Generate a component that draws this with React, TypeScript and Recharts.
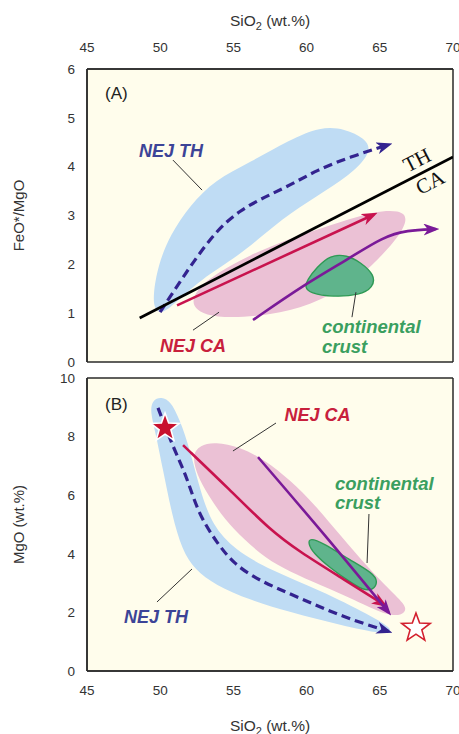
import React from 'react';
import { ScatterChart, Scatter, XAxis, YAxis, CartesianGrid } from 'recharts';

type Pt = { x: number; y: number };
type Lbl = { x: number; y: number; text: string; kind: string };
const pts = (a: number[][]): Pt[] => a.map(([x, y]) => ({ x, y }));

// ---------- axes ----------
const sio2Ticks = [45, 50, 55, 60, 65, 70];
const ratioTicks = [0, 1, 2, 3, 4, 5, 6];
const mgoTicks = [0, 2, 4, 6, 8, 10];

// ---------- Panel A : FeO*/MgO vs SiO2 ----------
const thFieldA = pts([
  [49.51, 1.37], [49.85, 1.98], [50.67, 2.6], [52.04, 3.21], [53.74, 3.73], [56.13, 4.09],
  [58.87, 4.55], [60.92, 4.82], [62.62, 4.78], [63.99, 4.58], [64.45, 4.34], [63.4, 3.93],
  [61.26, 3.5], [58.87, 3.05], [56.82, 2.55], [55.45, 2.2], [52.72, 1.68], [51.01, 1.2],
  [50.12, 0.98], [49.6, 1.08],
]);
const caFieldA = pts([
  [52.17, 1.27], [52.72, 1.57], [54.43, 1.92], [56.82, 2.29], [59.55, 2.6], [62.28, 2.86],
  [64.67, 3.09], [66.38, 3.11], [66.93, 2.95], [66.38, 2.6], [65.01, 2.13], [62.96, 1.57],
  [60.23, 1.16], [57.5, 0.96], [54.77, 0.9], [53.06, 0.96], [52.38, 1.1],
]);
const crustFieldA = pts([
  [60.03, 1.68], [60.71, 1.94], [61.6, 2.19], [62.76, 2.19], [63.65, 2.05], [64.67, 1.78],
  [64.54, 1.53], [63.65, 1.37], [61.8, 1.33], [60.23, 1.41], [59.89, 1.53],
]);
const thTrendA = pts([
  [49.99, 1.02], [50.67, 1.33], [51.56, 1.74], [52.51, 2.15], [53.88, 2.7], [55.45, 3.11],
  [57.16, 3.38], [58.87, 3.62], [60.71, 3.93], [62.96, 4.2], [65.6, 4.45],
]);
const caTrendA = pts([[51.15, 1.16], [64.6, 3.02]]);
const crustTrendA = pts([
  [56.34, 0.86], [59.75, 1.57], [62.96, 2.13], [65.22, 2.56], [66.86, 2.7], [68.8, 2.72],
]);
const thCaDivide = pts([[48.6, 0.9], [70, 4.2]]);
const leaderThA = pts([[50.87, 4.135], [52.86, 3.52]]);
const leaderCaA = pts([[52.24, 0.652], [54.02, 1.02]]);
const leaderCrustA = pts([[63.1, 0.918], [63.37, 1.43]]);
const labelsA: Lbl[] = [
  { x: 46.23, y: 5.385, text: '(A)', kind: 'panel' },
  { x: 50.74, y: 4.197, text: 'NEJ TH', kind: 'th' },
  { x: 52.24, y: 0.201, text: 'NEJ CA', kind: 'ca' },
  { x: 61.05, y: 0.59, text: 'continental', kind: 'crust' },
  { x: 61.05, y: 0.18, text: 'crust', kind: 'crust' },
  { x: 67.54, y: 4.135, text: 'TH', kind: 'divide' },
  { x: 68.43, y: 3.68, text: 'CA', kind: 'divide' },
];

// ---------- Panel B : MgO vs SiO2 ----------
const thFieldB = pts([
  [49.99, 9.35], [50.67, 9.25], [51.35, 8.57], [52.04, 7.54], [52.72, 6.18], [53.54, 4.98],
  [55.11, 4.13], [57.5, 3.45], [60.92, 2.76], [64.33, 1.91], [66.04, 1.4], [65.36, 1.23],
  [62.28, 1.57], [58.87, 2.01], [56.13, 2.42], [53.74, 2.94], [52.38, 3.45], [51.49, 4.13],
  [50.81, 5.32], [50.19, 6.86], [49.64, 8.23], [49.3, 8.91], [49.51, 9.25],
]);
const caFieldB = pts([
  [52.17, 7.37], [52.72, 7.71], [53.74, 7.82], [55.45, 7.65], [57.16, 7.2], [58.87, 6.52],
  [60.57, 5.67], [62.28, 4.64], [64.33, 3.45], [66.04, 2.59], [66.93, 2.15], [66.52, 1.88],
  [65.36, 1.91], [63.31, 2.42], [60.92, 2.94], [58.87, 3.38], [57.16, 3.86], [55.79, 4.47],
  [54.43, 5.15], [53.26, 6.01], [52.51, 6.69],
]);
const crustFieldB = pts([
  [60.23, 4.54], [61.12, 4.37], [62.96, 3.79], [64.54, 3.34], [64.88, 3.04], [64.54, 2.76],
  [63.85, 2.76], [62.96, 3.04], [61.6, 3.52], [60.44, 4.03], [60.1, 4.37],
]);
const thTrendB = pts([
  [49.85, 8.98], [50.87, 7.65], [51.83, 6.62], [52.58, 5.39], [53.88, 4.37], [54.97, 3.69],
  [56.61, 3.11], [59.55, 2.49], [62.49, 1.84], [65.6, 1.35],
]);
const caTrendB = pts([
  [51.56, 7.71], [54.77, 6.18], [57.5, 4.81], [59.55, 4.06], [62.28, 3.21], [65.3, 2.26],
]);
const crustTrendB = pts([[56.68, 7.3], [61.26, 4.62], [65.6, 2.0]]);
const leaderCaB = pts([[57.91, 8.464], [54.97, 7.509]]);
const leaderCrustB = pts([[64.26, 5.358], [64.13, 3.686]]);
const leaderThB = pts([[49.78, 2.355], [52.17, 3.481]]);
const starsB: Lbl[] = [
  { x: 50.33, y: 8.294, text: '', kind: 'filled' },
  { x: 67.47, y: 1.468, text: '', kind: 'open' },
];
const labelsB: Lbl[] = [
  { x: 46.23, y: 8.908, text: '(B)', kind: 'panel' },
  { x: 60.74, y: 8.532, text: 'NEJ CA', kind: 'ca' },
  { x: 61.94, y: 6.177, text: 'continental', kind: 'crust' },
  { x: 61.94, y: 5.529, text: 'crust', kind: 'crust' },
  { x: 49.71, y: 1.638, text: 'NEJ TH', kind: 'th' },
];

// ---------- styling ----------
const SANS = '"Liberation Sans", Arial, Helvetica, sans-serif';
const SERIF = '"Liberation Serif", "Times New Roman", serif';
const BG = '#fffdec';
const AXIS = '#2a2a2a';
const BLUE = '#bfdcf4';
const PINK = '#ebc1d5';
const GREEN = '#5fb48c';
const GREEN_LINE = '#2f9a55';
const NAVY = '#33238f';
const RED = '#c8134e';
const PURPLE = '#7a1a98';
const tickStyle = { fontSize: 13.5, fill: '#333', fontFamily: SANS };

const labelStyles: Record<string, any> = {
  panel: { fontSize: 17, fill: '#222', fontFamily: SANS, textAnchor: 'start' },
  th: { fontSize: 18, fill: '#3c4497', fontFamily: SANS, fontWeight: 'bold', fontStyle: 'italic', textAnchor: 'middle' },
  ca: { fontSize: 18, fill: '#c8203c', fontFamily: SANS, fontWeight: 'bold', fontStyle: 'italic', textAnchor: 'middle' },
  crust: { fontSize: 18.5, fill: '#3a9f5f', fontFamily: SANS, fontWeight: 'bold', fontStyle: 'italic', textAnchor: 'start' },
  divide: { fontSize: 21, fill: '#111', fontFamily: SERIF, textAnchor: 'middle', dominantBaseline: 'central', rotate: -27 },
};

const Nothing = () => <g />;

const LabelText = (p: any) => {
  const { rotate, ...s } = labelStyles[p.payload.kind];
  const tr = rotate ? `rotate(${rotate} ${p.cx} ${p.cy})` : undefined;
  return (
    <text x={p.cx} y={p.cy} transform={tr} {...s}>
      {p.payload.text}
    </text>
  );
};

const StarMark = (p: any) => {
  const rOut = 15;
  const rIn = 6.2;
  let d = '';
  for (let i = 0; i < 10; i++) {
    const a = ((-90 + i * 36) * Math.PI) / 180;
    const r = i % 2 === 0 ? rOut : rIn;
    d += `${i === 0 ? 'M' : 'L'}${p.cx + r * Math.cos(a)},${p.cy + r * Math.sin(a)}`;
  }
  d += 'Z';
  const filled = p.payload.kind === 'filled';
  return (
    <path d={d} fill={filled ? '#c8102e' : '#ffffff'} stroke={filled ? '#ffffff' : '#d3202e'} strokeWidth={1.6} strokeLinejoin="miter" />
  );
};

function field(key: string, data: Pt[], fill: string, stroke = 'none', strokeWidth = 0) {
  return (
    <Scatter key={key} data={data} xAxisId="x" yAxisId="y" isAnimationActive={false} shape={Nothing}
      line={{ fill, stroke, strokeWidth }} lineType="joint" lineJointType="basisClosed" />
  );
}

function path(key: string, data: Pt[], stroke: string, width: number, curve: any, marker?: string, dash?: string) {
  return (
    <Scatter key={key} data={data} xAxisId="x" yAxisId="y" isAnimationActive={false} shape={Nothing}
      line={{ fill: 'none', stroke, strokeWidth: width, strokeDasharray: dash, markerEnd: marker ? `url(#${marker})` : undefined, strokeLinecap: 'butt' }}
      lineType="joint" lineJointType={curve} />
  );
}

function texts(key: string, data: Lbl[]) {
  return <Scatter key={key} data={data} xAxisId="x" yAxisId="y" isAnimationActive={false} shape={LabelText} />;
}

const SiO2Title = (props: any) => {
  const vb = props.viewBox || { x: 0, y: 0, width: 0, height: 0 };
  const cx = vb.x + vb.width / 2;
  const y = props.top ? vb.y - 13 : vb.y + vb.height + 20;
  return (
    <text x={cx} y={y} textAnchor="middle" fontSize={15.5} fill="#333" fontFamily={SANS}>
      SiO<tspan fontSize={11} dy={4}>2</tspan>
      <tspan dy={-4}> (wt.%)</tspan>
    </text>
  );
};

const YTitle = (props: any) => {
  const vb = props.viewBox || { x: 0, y: 0, width: 0, height: 0 };
  const cy = vb.y + vb.height / 2;
  const x = vb.x + 24;
  return (
    <text x={x} y={cy} transform={`rotate(-90 ${x} ${cy})`} textAnchor="middle" fontSize={15} fill="#333" fontFamily={SANS}>
      {props.text}
    </text>
  );
};

function frameAxes(yDomain: number[], yTicks: number[], top: boolean, yTitle: string) {
  return [
    <CartesianGrid key="bg" xAxisId="x" yAxisId="y" horizontal={false} vertical={false} fill={BG} stroke="none" />,
    <XAxis key="x" xAxisId="x" type="number" dataKey="x" domain={[45, 70]} ticks={sio2Ticks} interval={0}
      allowDataOverflow orientation={top ? 'top' : 'bottom'} height={top ? 30 : 40}
      tickLine={false} tickSize={0} tickMargin={top ? 17 : 14} tick={tickStyle}
      axisLine={{ stroke: AXIS, strokeWidth: 1.5 }} label={<SiO2Title top={top} />} />,
    <XAxis key="xm1" xAxisId="xm1" type="number" domain={[45, 70]} ticks={sio2Ticks} interval={0}
      allowDataOverflow orientation="top" mirror tick={false} tickSize={5}
      tickLine={{ stroke: AXIS, strokeWidth: 1.2 }} axisLine={{ stroke: AXIS, strokeWidth: 1.5 }} />,
    <XAxis key="xm2" xAxisId="xm2" type="number" domain={[45, 70]} ticks={sio2Ticks} interval={0}
      allowDataOverflow orientation="bottom" mirror tick={false} tickSize={5}
      tickLine={{ stroke: AXIS, strokeWidth: 1.2 }} axisLine={{ stroke: AXIS, strokeWidth: 1.5 }} />,
    <YAxis key="y" yAxisId="y" type="number" dataKey="y" domain={yDomain} ticks={yTicks} interval={0}
      allowDataOverflow width={87} tickLine={false} tickSize={0} tickMargin={12} tick={tickStyle}
      axisLine={{ stroke: AXIS, strokeWidth: 1.5 }} label={<YTitle text={yTitle} />} />,
    <YAxis key="ym1" yAxisId="ym1" type="number" domain={yDomain} ticks={yTicks} interval={0}
      allowDataOverflow orientation="left" mirror tick={false} tickSize={5}
      tickLine={{ stroke: AXIS, strokeWidth: 1.2 }} axisLine={{ stroke: AXIS, strokeWidth: 1.5 }} />,
    <YAxis key="ym2" yAxisId="ym2" type="number" domain={yDomain} ticks={yTicks} interval={0}
      allowDataOverflow orientation="right" mirror tick={false} tickSize={5}
      tickLine={{ stroke: AXIS, strokeWidth: 1.2 }} axisLine={{ stroke: AXIS, strokeWidth: 1.5 }} />,
  ];
}

const Markers = () => (
  <svg width={0} height={0} style={{ position: 'absolute' }}>
    <defs>
      {[['ah-navy', NAVY], ['ah-red', RED], ['ah-purple', PURPLE]].map(([id, c]) => (
        <marker key={id} id={id} viewBox="0 0 16 12" refX={12} refY={6} markerWidth={16} markerHeight={12}
          markerUnits="userSpaceOnUse" orient="auto">
          <path d="M0,0 L16,6 L0,12 L4.5,6 Z" fill={c} />
        </marker>
      ))}
    </defs>
  </svg>
);

export default function App() {
  return (
    <div style={{ position: 'absolute', left: 0, top: 0, width: 459, height: 734, background: '#fff' }}>
      <Markers />
      <div style={{ position: 'absolute', left: 0, top: 0 }}>
        <ScatterChart width={459} height={372} margin={{ top: 39, right: 6, bottom: 10, left: 0 }}>
          {frameAxes([0, 6], ratioTicks, true, 'FeO*/MgO')}
          {field('thA', thFieldA, BLUE)}
          {field('caA', caFieldA, PINK)}
          {field('crA', crustFieldA, GREEN, GREEN_LINE, 1.4)}
          {path('l1', leaderThA, '#333', 1, 'linear')}
          {path('l2', leaderCaA, '#333', 1, 'linear')}
          {path('l3', leaderCrustA, '#333', 1, 'linear')}
          {path('thTA', thTrendA, NAVY, 3.2, 'basis', 'ah-navy', '9 5')}
          {path('div', thCaDivide, '#000', 2.8, 'linear')}
          {path('caTA', caTrendA, RED, 2.6, 'linear', 'ah-red')}
          {path('crTA', crustTrendA, PURPLE, 2.6, 'basis', 'ah-purple')}
          {texts('labA', labelsA)}
        </ScatterChart>
      </div>
      <div style={{ position: 'absolute', left: 0, top: 370 }}>
        <ScatterChart width={459} height={364} margin={{ top: 8, right: 6, bottom: 23, left: 0 }}>
          {frameAxes([0, 10], mgoTicks, false, 'MgO (wt.%)')}
          {field('thB', thFieldB, BLUE)}
          {field('caB', caFieldB, PINK)}
          {field('crB', crustFieldB, GREEN, GREEN_LINE, 1.4)}
          {path('m1', leaderCaB, '#333', 1, 'linear')}
          {path('m2', leaderCrustB, '#333', 1, 'linear')}
          {path('m3', leaderThB, '#333', 1, 'linear')}
          {path('thTB', thTrendB, NAVY, 3.2, 'basis', 'ah-navy', '9 5')}
          {path('caTB', caTrendB, RED, 2.6, 'basis', 'ah-red')}
          {path('crTB', crustTrendB, PURPLE, 2.6, 'natural', 'ah-purple')}
          <Scatter key="stars" data={starsB} xAxisId="x" yAxisId="y" isAnimationActive={false} shape={StarMark} />
          {texts('labB', labelsB)}
        </ScatterChart>
      </div>
    </div>
  );
}
